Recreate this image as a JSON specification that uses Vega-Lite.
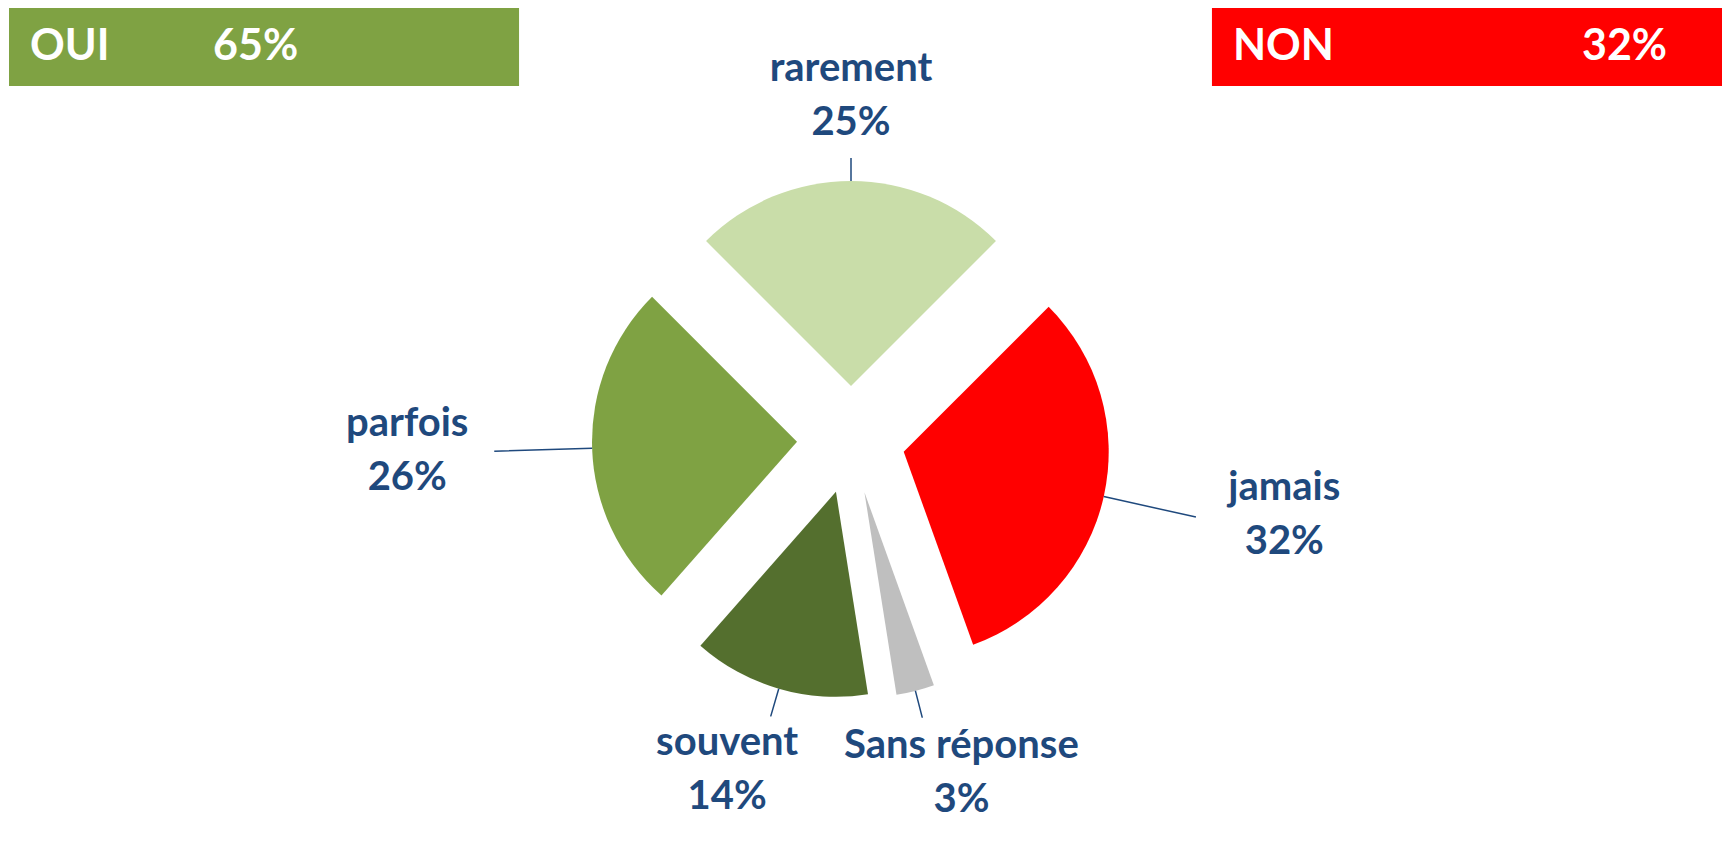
{
  "$schema": "https://vega.github.io/schema/vega-lite/v6.json",
  "padding": {"top": 8, "left": 0, "right": 0, "bottom": 0},
  "background": "white",
  "bounds": "flush",
  "spacing": 0,
  "resolve": {"scale": {"color": "independent", "x": "independent", "theta": "independent"}},
  "config": {"view": {"stroke": null}, "font": "Lato"},
  "vconcat": [
    {
      "width": 1722,
      "height": 78,
      "data": {"values": [
        {"group": "OUI", "share": 0.65},
        {"group": "NON", "share": 0.32}
      ]},
      "encoding": {
        "x": {"field": "group", "type": "nominal", "axis": null,
              "scale": {"domain": ["OUI", "NON"], "range": [9, 1722], "paddingInner": 0.576, "paddingOuter": 0}}
      },
      "layer": [
        {
          "mark": {"type": "rect"},
          "encoding": {
            "color": {"field": "group", "type": "nominal", "legend": null,
                      "scale": {"domain": ["OUI", "NON"], "range": ["#7FA243", "#FF0000"]}}
          }
        },
        {
          "mark": {"type": "text", "align": "left", "baseline": "middle", "dx": 21, "fontSize": 43, "fontWeight": "bold", "color": "white", "font": "Lato"},
          "encoding": {
            "x": {"field": "group", "type": "nominal", "bandPosition": 0},
            "text": {"field": "group"}
          }
        },
        {
          "mark": {"type": "text", "align": "left", "baseline": "middle", "dx": {"expr": "datum.group === 'OUI' ? 204 : 370"}, "fontSize": 43, "fontWeight": "bold", "color": "white", "font": "Lato"},
          "encoding": {
            "x": {"field": "group", "type": "nominal", "bandPosition": 0},
            "text": {"field": "share", "format": ".0%"}
          }
        }
      ]
    },
    {
      "width": 1702,
      "height": 708,
      "data": {"values": [
        {"answer": "rarement", "share": 0.25, "rank": 1},
        {"answer": "jamais", "share": 0.32, "rank": 2},
        {"answer": "Sans réponse", "share": 0.03, "rank": 3},
        {"answer": "souvent", "share": 0.14, "rank": 4},
        {"answer": "parfois", "share": 0.26, "rank": 5}
      ]},
      "encoding": {
        "theta": {"field": "share", "type": "quantitative", "stack": true,
                  "scale": {"type": "linear", "domain": [0, 1], "range": [-0.7853982, 5.4977871]}},
        "order": {"field": "rank", "type": "quantitative"}
      },
      "layer": [
        {
          "mark": {"type": "arc", "radius": 205,
                   "xOffset": {"expr": "54*sin(-PI/4 + PI*(datum.share_start + datum.share_end))"},
                   "yOffset": {"expr": "-54*cos(-PI/4 + PI*(datum.share_start + datum.share_end))"}},
          "encoding": {
            "color": {"field": "answer", "type": "nominal", "legend": null,
                      "scale": {"domain": ["rarement", "jamais", "Sans réponse", "souvent", "parfois"],
                                "range": ["#C9DDA9", "#FF0000", "#BFBFBF", "#546F2E", "#7FA243"]}}
          }
        },
        {
          "mark": {"type": "arc", "radius": {"expr": "228 + 75*pow(sin(-PI/4 + PI*(datum.share_start + datum.share_end)), 2)"}, "radius2": 205, "padAngle": 3.1416,
                   "stroke": "#1F497D", "strokeWidth": 1.5, "fillOpacity": 0,
                   "xOffset": {"expr": "54*sin(-PI/4 + PI*(datum.share_start + datum.share_end))"},
                   "yOffset": {"expr": "-54*cos(-PI/4 + PI*(datum.share_start + datum.share_end))"}},
          "encoding": {"detail": {"field": "answer"}}
        },
        {
          "mark": {"type": "text", "radius": 290, "dy": -27, "fontSize": 40, "fontWeight": "bold", "color": "#1F497D", "font": "Lato", "align": "center", "baseline": "middle",
                   "xOffset": {"expr": "154*sin(-PI/4 + PI*(datum.share_start + datum.share_end))"},
                   "yOffset": {"expr": "-54*cos(-PI/4 + PI*(datum.share_start + datum.share_end))"}},
          "encoding": {"detail": {"field": "answer"}, "text": {"field": "answer"}}
        },
        {
          "mark": {"type": "text", "radius": 290, "dy": 27, "fontSize": 40, "fontWeight": "bold", "color": "#1F497D", "font": "Lato", "align": "center", "baseline": "middle",
                   "xOffset": {"expr": "154*sin(-PI/4 + PI*(datum.share_start + datum.share_end))"},
                   "yOffset": {"expr": "-54*cos(-PI/4 + PI*(datum.share_start + datum.share_end))"}},
          "encoding": {"detail": {"field": "answer"}, "text": {"field": "share", "format": ".0%"}}
        }
      ]
    }
  ]
}
